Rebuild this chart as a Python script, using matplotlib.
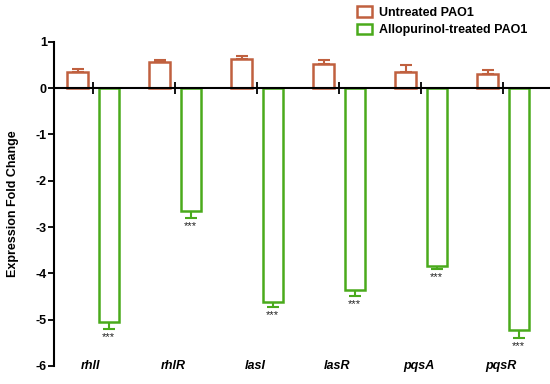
import matplotlib.pyplot as plt
import numpy as np

genes = ['rhlI', 'rhlR', 'lasI', 'lasR', 'pqsA', 'pqsR']
untreated = [0.35, 0.56, 0.63, 0.52, 0.35, 0.30]
untreated_err = [0.06, 0.04, 0.07, 0.08, 0.14, 0.10]
allo = [-5.05, -2.65, -4.62, -4.35, -3.85, -5.22]
allo_err = [0.15, 0.15, 0.10, 0.13, 0.05, 0.18]
signif = ['***'] * 6

red = '#C0603F'
green = '#4AAA1C'

plt.rcParams['font.family'] = ['Liberation Sans', 'DejaVu Sans']
plt.rcParams['font.weight'] = 'bold'

fig = plt.figure(figsize=(5.5, 3.84), dpi=100)
ax = fig.add_axes([0.098, 0.047, 0.902, 0.844])

x = np.arange(len(genes))
w = 0.25
off = 0.19
ax.bar(x - off, untreated, w, facecolor='white', edgecolor=red, linewidth=1.8,
       label='Untreated PAO1', zorder=2)
ax.errorbar(x - off, untreated, yerr=[np.zeros(6), untreated_err], fmt='none',
            ecolor=red, elinewidth=1.5, capsize=4, capthick=1.5, zorder=1)
ax.bar(x + off, allo, w, facecolor='white', edgecolor=green, linewidth=1.8,
       label='Allopurinol-treated PAO1', zorder=2)
ax.errorbar(x + off, allo, yerr=[allo_err, np.zeros(6)], fmt='none',
            ecolor=green, elinewidth=1.5, capsize=4, capthick=1.5, zorder=1)

for xi, v, e, s in zip(x, allo, allo_err, signif):
    ax.text(xi + off, v - e - 0.07, s, ha='center', va='top', fontsize=8,
            fontweight='normal', color='#222222')

for xi, g in zip(x, genes):
    ax.text(xi - 0.03, -6, g, ha='center', va='center', fontsize=9,
            fontstyle='italic', fontweight='bold')

ax.set_xlim(-0.48, 5.57)
ax.set_ylim(-6, 1)
ax.set_yticks(range(-6, 2))
ax.set_yticklabels([str(v) for v in range(-6, 2)], fontsize=9, fontweight='bold')
ax.set_xticks(x)
ax.set_xticklabels([])
ax.spines['top'].set_visible(False)
ax.spines['right'].set_visible(False)
ax.spines['bottom'].set_position(('data', 0))
ax.spines['bottom'].set_linewidth(1.5)
ax.spines['left'].set_linewidth(1.5)
ax.tick_params(axis='x', direction='inout', length=9, width=1.3, zorder=3)
ax.tick_params(axis='y', direction='out', length=4, width=1.3, pad=1)
ax.set_ylabel('Expression Fold Change', fontsize=9, fontweight='bold', labelpad=12)

ax.legend(loc='upper left', bbox_to_anchor=(0.6, 1.125), frameon=False,
          fontsize=9, handlelength=1.2, handleheight=0.9, labelspacing=0.4,
          handletextpad=0.6, borderaxespad=0)

fig.savefig('out.png', dpi=100)
